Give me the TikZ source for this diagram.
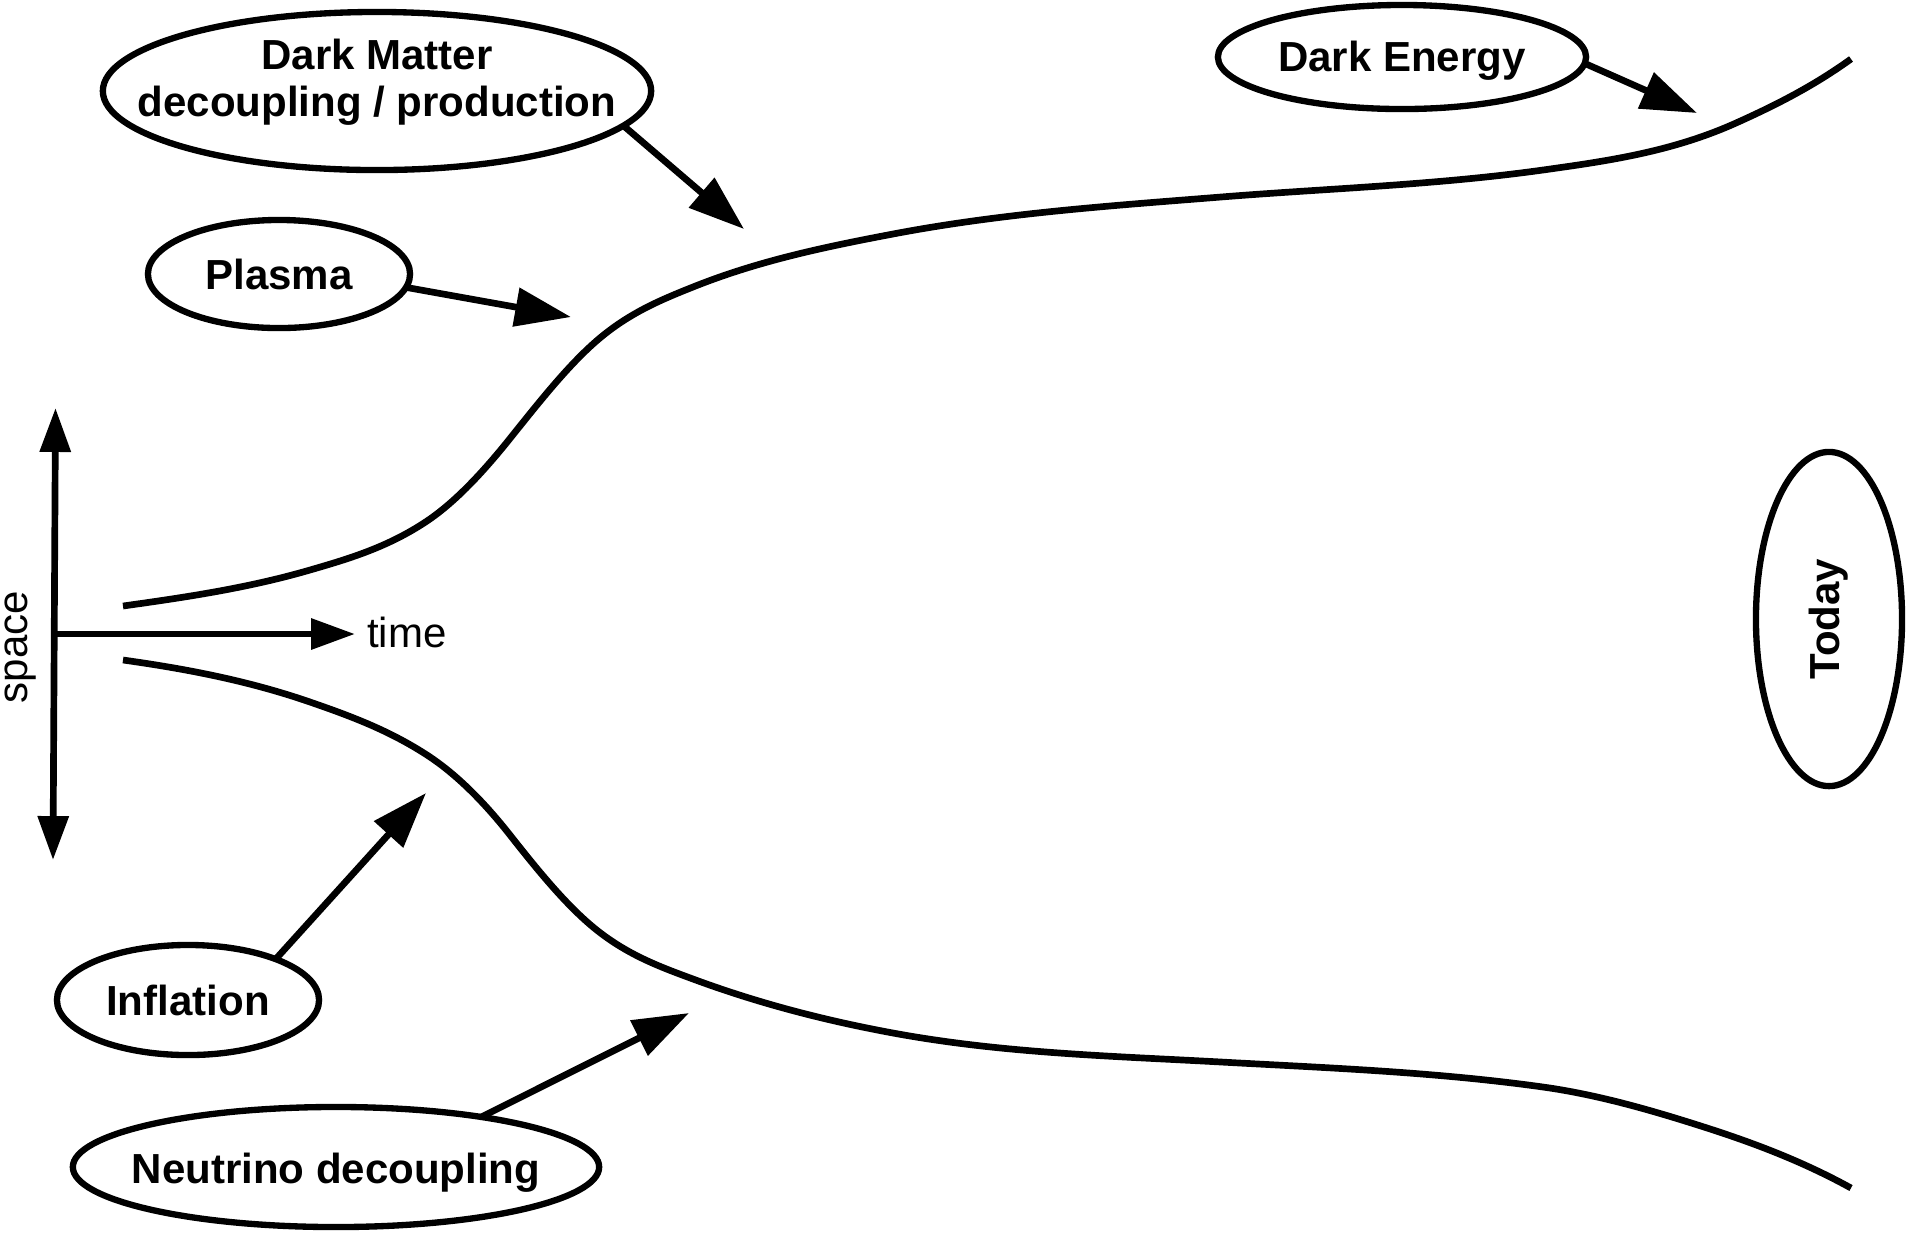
\documentclass[tikz,border=0pt]{standalone}
\usepackage{fontspec}
\setmainfont{Liberation Sans}
\usetikzlibrary{arrows.meta,shapes.geometric}
\begin{document}
\begin{tikzpicture}[x=0.01cm,y=-0.01cm,
  every node/.style={inner sep=0pt, outer sep=0pt},
  txt/.style={font=\fontsize{11.95pt}{13.4pt}\selectfont},
  lbl/.style={font=\fontsize{11.95pt}{13.4pt}\selectfont\bfseries},
  ell/.style={ellipse, draw, line width=1.8pt, lbl},
  curve/.style={line width=1.9pt},
  axisarrow/.style={line width=1.9pt},
  axistip/.style={-{Triangle[length=12.5pt,width=8.5pt]}},
  pointer/.style={line width=1.9pt, -{Triangle[length=15.9pt,width=10.8pt]}}
]
\useasboundingbox (0,0) rectangle (1908,1232);

% expanding universe outline (upper edge)
\draw[curve] (123,606)
  .. controls (185.3,597.3) and (247.7,588.1) .. (310,570)
  .. controls (349,558.7) and (388,547.1) .. (427,521)
  .. controls (454.7,502.4) and (482.3,473.1) .. (510,438.5)
  .. controls (537.7,403.9) and (565.3,368.9) .. (593,344)
  .. controls (626.3,314) and (659.7,300.3) .. (693,287)
  .. controls (759.7,260.3) and (826.3,246.7) .. (893,234)
  .. controls (1002.3,213.2) and (1111.7,205.7) .. (1221,197)
  .. controls (1328.3,188.4) and (1435.7,185) .. (1543,170)
  .. controls (1607.3,161) and (1671.7,151.9) .. (1736,123)
  .. controls (1774.3,105.8) and (1812.7,86.6) .. (1851,59);
% lower edge
\draw[curve] (123,660)
  .. controls (185.3,668.7) and (247.7,680.5) .. (310,702)
  .. controls (349,715.5) and (388,729.7) .. (427,755)
  .. controls (454.7,773) and (482.3,799.8) .. (510,835)
  .. controls (537.7,870.2) and (565.3,904) .. (593,927)
  .. controls (626.3,954.6) and (659.7,966.7) .. (693,979)
  .. controls (759.7,1003.7) and (826.3,1020.7) .. (893,1033)
  .. controls (1002.3,1053.2) and (1111.7,1056) .. (1221,1062)
  .. controls (1328.3,1067.9) and (1435.7,1072) .. (1543,1087)
  .. controls (1596.7,1094.5) and (1650.3,1109.8) .. (1704,1127)
  .. controls (1753,1142.7) and (1802,1161) .. (1851,1188);

% axes
\coordinate (sTop) at (55.5,408);
\coordinate (sBot) at (53,860);
\coordinate (orig) at (54.5,634);
\coordinate (tTip) at (355,634);
\draw[axisarrow, {Triangle[length=12.5pt,width=8.5pt]}-{Triangle[length=12.5pt,width=8.5pt]}] (sBot) -- (sTop);
\draw[axisarrow, axistip] (orig) -- (tTip);
\node[txt, anchor=base west] (timelbl) at (367,647) {time};
\node[txt, rotate=90] (spacelbl) at (21,647) {space};

% ellipses
\node[ell, minimum width=5.48cm, minimum height=1.58cm] (dm) at (377,91) {};
\node[lbl, align=center] (dmlbl) at (377,82.5) {Dark Matter\\decoupling / production};
\node[ell, minimum width=2.62cm, minimum height=1.08cm] (pl) at (279,274) {\makebox[0pt]{Plasma}};
\node[ell, minimum width=3.68cm, minimum height=1.04cm] (de) at (1402,57) {\makebox[0pt]{\raisebox{-0.04cm}[\height][\depth]{Dark Energy}}};
\node[ell, minimum width=2.62cm, minimum height=1.10cm] (inf) at (188,1000) {\makebox[0pt]{Inflation}};
\node[ell, minimum width=5.26cm, minimum height=1.20cm] (neu) at (336,1167) {\makebox[0pt]{\raisebox{-0.06cm}[\height][\depth]{Neutrino decoupling}}};
\node[ell, rotate=90, minimum width=3.34cm, minimum height=1.46cm] (today) at (1829,619) {\makebox[0pt]{Today}};

% pointers
\coordinate (dmtip) at (744,229);
\coordinate (pltip) at (571,317);
\coordinate (detip) at (1697,113);
\coordinate (inftip) at (426,793);
\coordinate (neutip) at (689,1013);
\draw[pointer] (dm.-8.4) -- (dmtip);
\draw[pointer] (pl.-6) -- (pltip);
\draw[pointer] (de.-2.5) -- (detip);
\draw[pointer] (inf.25) -- (inftip);
\draw[pointer] (neu.19.6) -- (neutip);
\end{tikzpicture}
\end{document}
